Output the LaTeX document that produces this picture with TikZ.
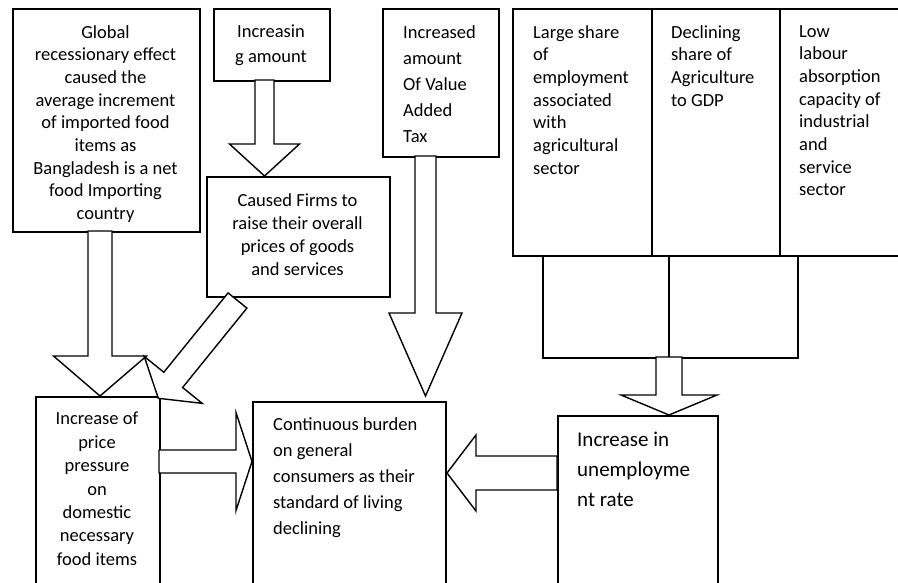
\documentclass[tikz,border=0pt]{standalone}
\usepackage{fontspec}
\setmainfont{Carlito}
\usetikzlibrary{calc}
\newcommand{\blkarrow}[5]{%
  \coordinate (bh) at ($(#2)!#5!(#1)$);
  \draw[arr] ($(#1)!#3!90:(#2)$) -- ($(bh)!#3!90:(#2)$) -- ($(bh)!#4!90:(#2)$) -- (#2) -- ($(bh)!#4!-90:(#2)$) -- ($(bh)!#3!-90:(#2)$) -- ($(#1)!#3!-90:(#2)$) -- cycle;}
\tikzset{
  box/.style={draw, line width=1.6pt, inner sep=0pt, anchor=north west},
  arr/.style={draw, fill=white, line width=1.4pt, line join=miter},
  ctext/.style={anchor=north, inner sep=0pt, align=center, font=\fontsize{18.5}{#1}\selectfont},
  ltext/.style={anchor=north west, inner sep=0pt, align=left, font=\fontsize{18.5}{#1}\selectfont},
}
\begin{document}
\begin{tikzpicture}[x=1pt,y=-1pt]
\useasboundingbox (0,0) rectangle (898,583);
\clip (0,0) rectangle (898,583);
\fill[white] (0,0) rectangle (898,583);
% boxes
\node[box, minimum width=187pt, minimum height=223pt] (g) at (12,8) {};
\node[box, minimum width=116pt, minimum height=72pt] (inc) at (213,8) {};
\node[box, minimum width=183pt, minimum height=120pt] (firms) at (206,176) {};
\node[box, minimum width=116pt, minimum height=148pt] (vat) at (382,8) {};
\node[box, minimum width=139pt, minimum height=247pt] (ls) at (512,8) {};
\node[box, minimum width=128pt, minimum height=247pt] (dec) at (651,8) {};
\node[box, minimum width=160pt, minimum height=247pt] (low) at (779,8) {};
\node[box, minimum width=126pt, minimum height=102pt] (trayA) at (542,255) {};
\node[box, minimum width=129pt, minimum height=102pt] (trayB) at (668,255) {};
\node[box, minimum width=124pt, minimum height=230pt] (price) at (35,396) {};
\node[box, minimum width=193pt, minimum height=230pt] (cont) at (252,401) {};
\node[box, minimum width=160pt, minimum height=230pt] (unemp) at (557,415) {};
% texts
\node[ctext=22.7] (tg) at (105.5,25) {Global\\recessionary effect\\caused the\\average increment\\of imported food\\items as\\Bangladesh is a net\\food Importing\\country};
\node[ctext=25] (tinc) at (271,25) {Increasin\\g amount};
\node[ctext=23] (tfirms) at (297.5,193) {Caused Firms to\\raise their overall\\prices of goods\\and services};
\node[ltext=26] (tvat) at (403,25) {Increased\\amount\\Of Value\\Added\\Tax};
\node[ltext=22.7] (tls) at (533,25) {Large share\\of\\employment\\associated\\with\\agricultural\\sector};
\node[ltext=22.7] (tdec) at (671,25) {Declining\\share of\\Agriculture\\to GDP};
\node[ltext=22.7] (tlow) at (799,25) {Low\\labour\\absorption\\capacity of\\industrial\\and\\service\\sector};
\node[ctext=23.4] (tprice) at (97,412) {Increase of\\price\\pressure\\on\\domestic\\necessary\\food items};
\node[ltext=26] (tcont) at (273,417) {Continuous burden\\on general\\consumers as their\\standard of living\\declining};
\node[anchor=north west, inner sep=0pt, align=left, font=\fontsize{21}{30}\selectfont] (tun) at (577,432) {Increase in\\unemployme\\nt rate};
% arrow end points
\coordinate (s1) at (100,231);   \coordinate (e1) at (100,396);
\coordinate (s2) at (264.5,80);  \coordinate (e2) at (264.5,176);
\coordinate (s3) at (237.5,300.5); \coordinate (e3) at (158.3,398.3);
\coordinate (s4) at (425.5,156); \coordinate (e4) at (425.5,396);
\coordinate (s5) at (669,357);   \coordinate (e5) at (669,415);
\coordinate (s6) at (159,461.5); \coordinate (e6) at (252,461.5);
\coordinate (s7) at (557,473);   \coordinate (e7) at (447,473);
% block arrows
\blkarrow{s1}{e1}{12pt}{46.5pt}{40pt}
\blkarrow{s2}{e2}{9.5pt}{35pt}{32pt}
\blkarrow{s3}{e3}{12.1pt}{37.3pt}{23.7pt}
\blkarrow{s4}{e4}{10.5pt}{36.5pt}{83pt}
\blkarrow{s5}{e5}{13pt}{48pt}{20pt}
\blkarrow{s6}{e6}{11.5pt}{49pt}{16pt}
\blkarrow{s7}{e7}{17pt}{38pt}{29pt}
\end{tikzpicture}
\end{document}
